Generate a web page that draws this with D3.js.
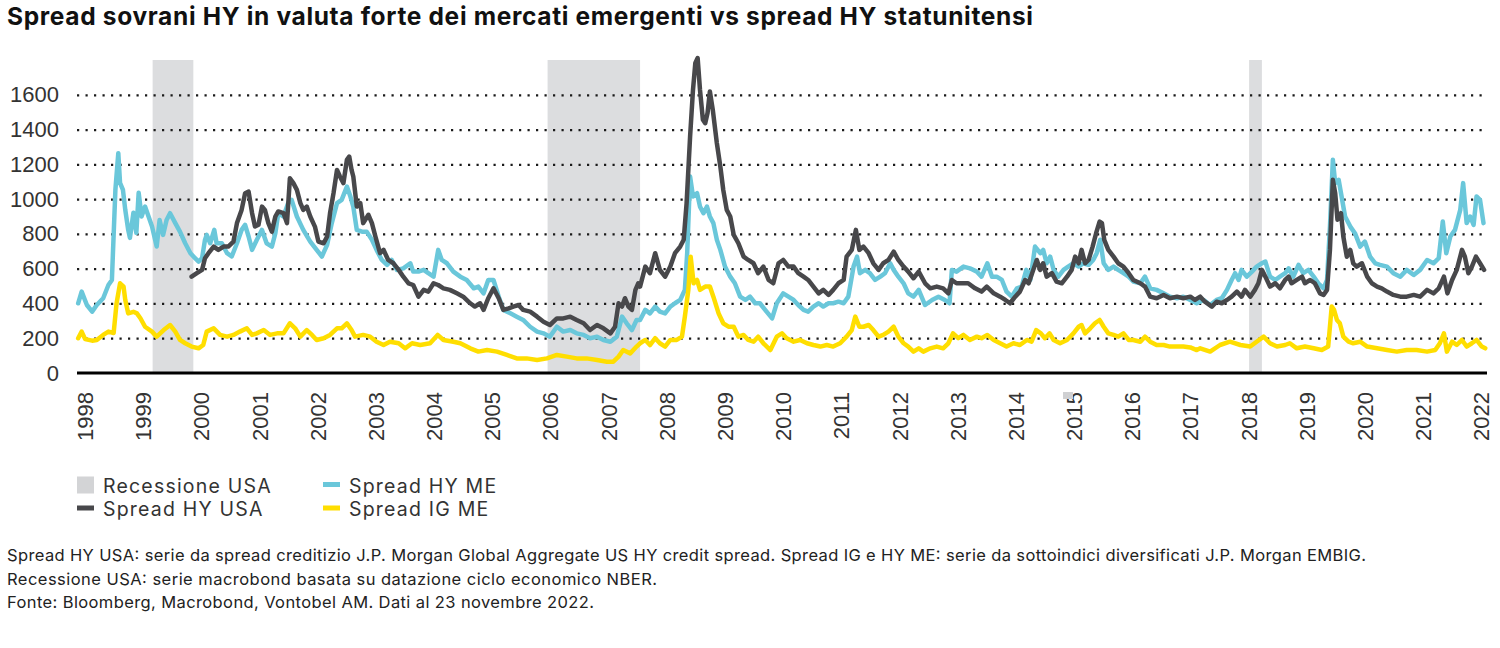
<!DOCTYPE html>
<html>
<head>
<meta charset="utf-8">
<script src="https://cdn.jsdelivr.net/npm/d3@7"></script>
<style>
  html, body { margin: 0; padding: 0; background: #fff; }
  svg { display: block; }
</style>
</head>
<body>
<svg id="chart" width="1500" height="648"></svg>
<script>
// ---------------- DATA ----------------
const titleText = "Spread sovrani HY in valuta forte dei mercati emergenti vs spread HY statunitensi";
const xTickYears = [1998,1999,2000,2001,2002,2003,2004,2005,2006,2007,2008,2009,2010,2011,2012,2013,2014,2015,2016,2017,2018,2019,2020,2021,2022];
const yTickValues = [0,200,400,600,800,1000,1200,1400,1600];
const recessions = [[1999.16,1999.86],[2005.95,2007.54],[2018.01,2018.23]];

const hyMe = [
[1997.88,401],[1997.94,468],[1998.03,391],[1998.12,353],[1998.20,391],[1998.31,430],[1998.40,506],[1998.46,535],[1998.52,1053],[1998.57,1264],[1998.60,1093],[1998.65,1053],[1998.69,938],[1998.74,823],[1998.77,777],[1998.83,921],[1998.88,806],[1998.92,1036],[1998.97,900],[1999.03,957],[1999.09,900],[1999.15,842],[1999.23,727],[1999.28,880],[1999.34,794],[1999.40,880],[1999.46,919],[1999.55,862],[1999.63,813],[1999.72,746],[1999.81,689],[1999.89,660],[1999.95,641],
[2000.01,660],[2000.06,765],[2000.09,794],[2000.15,746],[2000.22,823],[2000.26,746],[2000.35,746],[2000.44,689],[2000.52,670],[2000.61,746],[2000.69,823],[2000.75,852],[2000.81,785],[2000.87,708],[2000.95,765],[2001.04,823],[2001.12,746],[2001.21,727],[2001.27,804],[2001.32,919],[2001.41,900],[2001.49,977],[2001.55,996],[2001.64,900],[2001.75,823],[2001.87,756],[2001.98,708],
[2002.07,670],[2002.16,737],[2002.24,862],[2002.33,977],[2002.41,996],[2002.50,1072],[2002.56,1015],[2002.61,957],[2002.67,823],[2002.76,813],[2002.84,813],[2002.93,766],[2003.01,708],[2003.10,650],[2003.19,622],[2003.27,650],[2003.36,593],[2003.47,602],[2003.59,631],[2003.64,583],[2003.73,583],[2003.82,593],[2003.90,574],[2003.99,554],
[2004.07,708],[2004.13,650],[2004.22,631],[2004.33,583],[2004.45,554],[2004.56,535],[2004.68,487],[2004.76,497],[2004.85,458],[2004.93,535],[2005.02,535],[2005.11,439],[2005.19,363],[2005.31,343],[2005.42,324],[2005.53,305],[2005.65,266],[2005.77,238],[2005.88,228],[2005.99,209],
[2006.11,266],[2006.22,238],[2006.34,247],[2006.45,228],[2006.57,219],[2006.68,200],[2006.80,209],[2006.91,190],[2007.03,180],[2007.14,209],[2007.23,324],[2007.31,286],[2007.40,247],[2007.48,305],[2007.54,305],[2007.63,363],[2007.71,343],[2007.80,382],[2007.88,353],[2007.97,343],
[2008.06,382],[2008.14,401],[2008.23,420],[2008.31,478],[2008.35,689],[2008.40,1130],[2008.45,1015],[2008.52,1034],[2008.57,957],[2008.63,919],[2008.69,957],[2008.74,900],[2008.80,862],[2008.86,766],[2008.92,708],[2009.00,612],[2009.09,554],[2009.17,516],[2009.26,439],[2009.35,420],[2009.43,439],[2009.52,401],[2009.60,401],[2009.69,363],[2009.81,314],[2009.89,401],
[2010.00,458],[2010.09,439],[2010.18,420],[2010.26,391],[2010.35,363],[2010.43,353],[2010.52,382],[2010.61,401],[2010.69,382],[2010.78,401],[2010.86,401],[2010.95,410],[2011.04,401],[2011.12,439],[2011.21,612],[2011.27,669],[2011.32,574],[2011.41,593],[2011.49,574],[2011.58,535],[2011.67,554],[2011.75,574],[2011.84,631],[2011.90,593],[2011.98,554],
[2012.07,516],[2012.15,458],[2012.24,439],[2012.33,478],[2012.44,391],[2012.56,420],[2012.67,439],[2012.78,420],[2012.86,401],[2012.90,593],[2012.98,583],[2013.10,612],[2013.21,602],[2013.33,583],[2013.41,554],[2013.51,631],[2013.59,554],[2013.67,554],[2013.76,535],[2013.84,468],[2013.93,439],
[2014.02,487],[2014.10,497],[2014.18,593],[2014.25,535],[2014.33,727],[2014.42,689],[2014.47,708],[2014.53,631],[2014.59,669],[2014.65,593],[2014.73,554],[2014.82,593],[2014.90,612],[2014.99,631],[2015.08,612],[2015.16,631],[2015.25,622],[2015.33,650],[2015.39,689],[2015.45,766],[2015.51,631],[2015.59,593],[2015.68,612],[2015.76,593],[2015.85,574],[2015.94,554],
[2016.02,526],[2016.14,516],[2016.22,554],[2016.31,487],[2016.42,478],[2016.54,458],[2016.65,439],[2016.77,430],[2016.88,439],[2017.00,420],[2017.11,401],[2017.23,420],[2017.34,391],[2017.45,420],[2017.54,430],[2017.63,478],[2017.71,535],[2017.77,574],[2017.83,535],[2017.88,593],[2017.97,554],
[2018.06,583],[2018.14,612],[2018.23,631],[2018.29,641],[2018.37,554],[2018.46,535],[2018.54,554],[2018.63,574],[2018.69,602],[2018.77,554],[2018.86,622],[2018.94,574],[2019.03,593],[2019.12,554],[2019.20,516],[2019.29,487],[2019.35,535],[2019.40,842],[2019.45,1226],[2019.49,1092],[2019.55,1111],[2019.60,1015],[2019.66,900],[2019.75,842],[2019.83,804],[2019.92,727],
[2020.00,756],[2020.09,669],[2020.18,631],[2020.26,622],[2020.38,612],[2020.49,574],[2020.61,554],[2020.72,593],[2020.84,564],[2020.95,593],[2021.07,650],[2021.18,631],[2021.27,660],[2021.34,871],[2021.40,689],[2021.47,785],[2021.55,823],[2021.64,938],[2021.69,1092],[2021.75,862],[2021.81,900],[2021.87,852],[2021.92,1015],[2021.98,996],[2022.04,862]
];

const hyUsa = [
[1999.83,554],[1999.92,574],[2000.01,593],[2000.06,660],[2000.12,689],[2000.21,727],[2000.29,708],[2000.38,727],[2000.46,727],[2000.55,756],[2000.61,862],[2000.69,938],[2000.75,1034],[2000.81,1043],[2000.87,919],[2000.92,842],[2000.98,852],[2001.04,957],[2001.09,938],[2001.15,862],[2001.21,813],[2001.27,900],[2001.32,929],[2001.41,919],[2001.47,862],[2001.52,1120],[2001.58,1092],[2001.64,1053],[2001.70,977],[2001.75,938],[2001.81,957],[2001.87,900],[2001.95,842],
[2002.01,756],[2002.10,746],[2002.16,785],[2002.21,919],[2002.27,1034],[2002.33,1168],[2002.38,1130],[2002.44,1092],[2002.50,1226],[2002.54,1245],[2002.58,1168],[2002.61,1130],[2002.67,957],[2002.73,977],[2002.78,862],[2002.87,910],[2002.93,862],[2002.99,785],[2003.07,689],[2003.13,708],[2003.21,650],[2003.30,631],[2003.39,593],[2003.47,554],[2003.56,516],[2003.64,506],[2003.73,439],[2003.82,478],[2003.90,468],[2003.99,516],
[2004.07,506],[2004.16,487],[2004.27,478],[2004.39,458],[2004.50,439],[2004.62,401],[2004.70,382],[2004.79,401],[2004.85,363],[2004.93,430],[2005.02,487],[2005.11,430],[2005.19,363],[2005.28,372],[2005.36,382],[2005.45,391],[2005.53,363],[2005.65,353],[2005.77,324],[2005.88,295],[2005.99,276],
[2006.11,314],[2006.22,314],[2006.34,324],[2006.45,305],[2006.57,286],[2006.68,247],[2006.80,276],[2006.91,257],[2007.03,228],[2007.11,266],[2007.17,401],[2007.23,382],[2007.28,430],[2007.34,382],[2007.40,363],[2007.46,478],[2007.51,516],[2007.54,497],[2007.63,612],[2007.71,574],[2007.80,689],[2007.88,593],[2007.97,554],
[2008.06,612],[2008.14,689],[2008.23,727],[2008.29,766],[2008.34,977],[2008.40,1360],[2008.45,1629],[2008.49,1783],[2008.53,1811],[2008.57,1629],[2008.62,1456],[2008.66,1437],[2008.70,1495],[2008.74,1619],[2008.79,1514],[2008.86,1322],[2008.92,1187],[2008.97,1053],[2009.03,938],[2009.09,900],[2009.15,794],[2009.23,746],[2009.32,669],[2009.40,650],[2009.49,631],[2009.57,574],[2009.66,612],[2009.75,535],[2009.83,516],[2009.92,631],
[2010.00,650],[2010.09,612],[2010.18,612],[2010.26,574],[2010.35,554],[2010.43,535],[2010.52,497],[2010.61,458],[2010.69,478],[2010.78,449],[2010.86,478],[2010.95,516],[2011.04,535],[2011.09,669],[2011.18,708],[2011.25,823],[2011.31,708],[2011.38,727],[2011.47,689],[2011.55,631],[2011.64,593],[2011.72,631],[2011.81,650],[2011.90,698],[2011.98,650],
[2012.07,612],[2012.15,583],[2012.24,545],[2012.33,583],[2012.44,516],[2012.53,487],[2012.64,497],[2012.75,487],[2012.84,458],[2012.90,535],[2012.98,516],[2013.10,516],[2013.18,516],[2013.30,487],[2013.41,468],[2013.50,497],[2013.62,458],[2013.73,439],[2013.82,420],[2013.90,401],[2013.99,439],
[2014.07,468],[2014.16,535],[2014.22,516],[2014.30,593],[2014.36,650],[2014.42,593],[2014.47,631],[2014.53,554],[2014.62,574],[2014.70,526],[2014.79,516],[2014.88,554],[2014.96,593],[2015.02,669],[2015.08,631],[2015.13,708],[2015.19,631],[2015.25,650],[2015.32,727],[2015.38,804],[2015.44,871],[2015.48,862],[2015.52,766],[2015.59,708],[2015.68,669],[2015.76,631],[2015.85,612],[2015.94,574],
[2016.02,535],[2016.14,516],[2016.22,497],[2016.31,439],[2016.42,430],[2016.54,449],[2016.65,430],[2016.77,439],[2016.88,430],[2017.00,439],[2017.08,420],[2017.17,439],[2017.25,410],[2017.37,382],[2017.45,410],[2017.54,401],[2017.63,420],[2017.71,439],[2017.80,468],[2017.88,439],[2017.94,478],
[2018.03,439],[2018.11,478],[2018.17,516],[2018.23,593],[2018.29,554],[2018.37,497],[2018.46,516],[2018.54,487],[2018.63,535],[2018.69,554],[2018.74,516],[2018.83,535],[2018.92,554],[2018.97,516],[2019.06,535],[2019.14,516],[2019.23,458],[2019.29,449],[2019.35,478],[2019.40,708],[2019.45,1111],[2019.49,1034],[2019.53,881],[2019.59,919],[2019.63,785],[2019.69,669],[2019.75,708],[2019.80,631],[2019.86,612],[2019.95,631],
[2020.04,554],[2020.12,516],[2020.21,497],[2020.29,487],[2020.38,468],[2020.49,449],[2020.61,439],[2020.72,439],[2020.84,449],[2020.95,439],[2021.07,478],[2021.18,458],[2021.27,487],[2021.36,554],[2021.42,458],[2021.50,535],[2021.58,593],[2021.67,708],[2021.72,669],[2021.78,574],[2021.84,612],[2021.91,669],[2021.98,631],[2022.05,593]
];

const igMe = [
[1997.88,200],[1997.94,238],[1998.00,195],[1998.12,186],[1998.20,190],[1998.31,219],[1998.40,238],[1998.49,230],[1998.54,401],[1998.60,516],[1998.66,497],[1998.69,420],[1998.74,343],[1998.83,352],[1998.89,343],[1998.95,315],[1999.03,266],[1999.15,238],[1999.23,209],[1999.35,247],[1999.46,276],[1999.55,238],[1999.63,190],[1999.72,171],[1999.83,152],[1999.95,142],
[2000.03,161],[2000.09,238],[2000.21,257],[2000.32,219],[2000.44,209],[2000.55,219],[2000.66,238],[2000.78,257],[2000.87,219],[2000.95,228],[2001.07,247],[2001.18,219],[2001.30,228],[2001.41,228],[2001.52,286],[2001.61,257],[2001.70,209],[2001.81,247],[2001.90,219],[2001.98,190],
[2002.10,200],[2002.21,219],[2002.33,257],[2002.41,257],[2002.50,286],[2002.58,247],[2002.64,209],[2002.78,219],[2002.90,209],[2003.01,180],[2003.13,161],[2003.24,180],[2003.39,171],[2003.50,142],[2003.62,171],[2003.76,161],[2003.93,171],
[2004.06,219],[2004.16,190],[2004.33,180],[2004.45,171],[2004.62,142],[2004.76,123],[2004.91,132],[2005.08,123],[2005.25,104],[2005.42,84],[2005.59,84],[2005.77,75],[2005.94,84],
[2006.11,104],[2006.28,94],[2006.45,84],[2006.62,84],[2006.80,75],[2006.97,65],[2007.08,65],[2007.17,94],[2007.25,132],[2007.37,113],[2007.48,152],[2007.54,171],[2007.63,190],[2007.71,161],[2007.80,200],[2007.88,171],[2007.97,152],
[2008.06,190],[2008.17,190],[2008.26,209],[2008.31,324],[2008.37,478],[2008.41,669],[2008.46,516],[2008.52,535],[2008.57,478],[2008.66,497],[2008.74,497],[2008.80,439],[2008.89,343],[2008.97,286],[2009.06,266],[2009.15,266],[2009.23,209],[2009.32,219],[2009.40,190],[2009.49,180],[2009.57,209],[2009.66,171],[2009.78,132],[2009.89,209],[2009.98,228],
[2010.06,200],[2010.18,180],[2010.29,190],[2010.41,171],[2010.52,161],[2010.64,152],[2010.75,161],[2010.86,152],[2010.98,171],[2011.09,209],[2011.18,247],[2011.24,324],[2011.31,266],[2011.38,266],[2011.47,276],[2011.55,247],[2011.64,209],[2011.72,219],[2011.81,238],[2011.90,266],[2011.98,209],
[2012.07,171],[2012.15,152],[2012.24,123],[2012.33,142],[2012.41,123],[2012.53,142],[2012.64,152],[2012.75,142],[2012.84,171],[2012.92,228],[2013.01,200],[2013.10,219],[2013.21,190],[2013.33,209],[2013.41,200],[2013.51,219],[2013.62,190],[2013.73,171],[2013.84,152],[2013.96,171],
[2014.07,161],[2014.19,190],[2014.27,180],[2014.35,247],[2014.43,228],[2014.50,200],[2014.58,228],[2014.65,190],[2014.76,171],[2014.88,190],[2014.99,228],[2015.08,266],[2015.13,276],[2015.19,228],[2015.28,257],[2015.36,286],[2015.44,305],[2015.51,266],[2015.59,228],[2015.68,219],[2015.76,209],[2015.85,228],[2015.94,190],
[2016.02,190],[2016.14,180],[2016.22,209],[2016.31,180],[2016.42,161],[2016.54,161],[2016.65,152],[2016.77,152],[2016.88,152],[2017.00,147],[2017.11,132],[2017.17,142],[2017.34,123],[2017.51,161],[2017.68,180],[2017.86,161],
[2018.03,152],[2018.14,180],[2018.26,209],[2018.37,171],[2018.49,152],[2018.63,161],[2018.71,171],[2018.83,142],[2018.97,152],[2019.12,142],[2019.26,132],[2019.37,152],[2019.43,382],[2019.47,363],[2019.52,305],[2019.57,286],[2019.63,209],[2019.72,180],[2019.80,171],[2019.92,180],
[2020.04,152],[2020.21,142],[2020.38,132],[2020.55,123],[2020.72,132],[2020.89,132],[2021.07,123],[2021.21,132],[2021.29,171],[2021.36,228],[2021.41,123],[2021.50,180],[2021.58,161],[2021.67,190],[2021.75,152],[2021.84,171],[2021.92,190],[2022.01,152],[2022.07,142]
];

const legendItems = [
  {label: "Recessione USA", kind: "rect", color: "#d3d4d6", col: 0, row: 0},
  {label: "Spread HY USA", kind: "line", color: "#48484b", col: 0, row: 1},
  {label: "Spread HY ME", kind: "line", color: "#6ac7da", col: 1, row: 0},
  {label: "Spread IG ME", kind: "line", color: "#ffde00", col: 1, row: 1}
];
const footnotes = [
  "Spread HY USA: serie da spread creditizio J.P. Morgan Global Aggregate US HY credit spread. Spread IG e HY ME: serie da sottoindici diversificati J.P. Morgan EMBIG.",
  "Recessione USA: serie macrobond basata su datazione ciclo economico NBER.",
  "Fonte: Bloomberg, Macrobond, Vontobel AM. Dati al 23 novembre 2022."
];

// ---------------- CHART ----------------
const svg = d3.select("#chart");
const plot = {left: 77, right: 1487, top: 60, bottom: 373};

const x = d3.scaleLinear().domain([1997.86, 2022.10]).range([plot.left, plot.right]);
const y = d3.scaleLinear().domain([0, 1800]).range([plot.bottom, plot.top]);

svg.append("rect").attr("width", 1500).attr("height", 648).attr("fill", "#fff");

// title
svg.append("text")
  .attr("x", 7).attr("y", 25)
  .attr("font-family", "Inter, 'Noto Sans', sans-serif")
  .attr("font-weight", 700)
  .attr("font-size", 24.5)
  .attr("fill", "#111")
  .attr("textLength", 1026)
  .attr("lengthAdjust", "spacing")
  .text(titleText);

// recession bands
svg.append("g").selectAll("rect").data(recessions).join("rect")
  .attr("x", d => x(d[0]))
  .attr("width", d => x(d[1]) - x(d[0]))
  .attr("y", y(1800))
  .attr("height", y(0) - y(1800))
  .attr("fill", "#dcdddf");

// gridlines (dotted)
const yAxisGrid = d3.axisLeft(y).tickValues(yTickValues.filter(v => v > 0))
  .tickSize(-(plot.right - plot.left)).tickFormat("");
const gGrid = svg.append("g").attr("transform", `translate(${plot.left},0)`).call(yAxisGrid);
gGrid.select(".domain").remove();
gGrid.selectAll(".tick line")
  .attr("stroke", "#1a1a1a").attr("stroke-width", 2.2)
  .attr("stroke-dasharray", "2.2,6.3");

// y labels
const yAxis = d3.axisLeft(y).tickValues(yTickValues).tickFormat(d3.format("d")).tickSize(0).tickPadding(0);
const gY = svg.append("g").attr("transform", `translate(59,0)`).call(yAxis);
gY.select(".domain").remove();
gY.selectAll("text")
  .attr("font-family", "'Liberation Sans', Arial, sans-serif")
  .attr("font-size", 22).attr("fill", "#333");

// lines
const line = d3.line().x(d => x(d[0])).y(d => y(d[1]));
const series = [
  {data: hyMe, color: "#6ac7da"},
  {data: hyUsa, color: "#48484b"},
  {data: igMe, color: "#ffde00"}
];
svg.append("g").selectAll("path").data(series).join("path")
  .attr("d", d => line(d.data))
  .attr("fill", "none")
  .attr("stroke", d => d.color)
  .attr("stroke-width", 4.5)
  .attr("stroke-linejoin", "round")
  .attr("stroke-linecap", "round");

// zero line
svg.append("line")
  .attr("x1", plot.left).attr("x2", plot.right)
  .attr("y1", y(0)).attr("y2", y(0))
  .attr("stroke", "#000").attr("stroke-width", 3);

// x axis labels
const xAxis = d3.axisBottom(x).tickValues(xTickYears).tickFormat(d3.format("d")).tickSize(0).tickPadding(0);
const gX = svg.append("g").attr("transform", `translate(0,392)`).call(xAxis);
gX.select(".domain").remove();
gX.selectAll("text")
  .attr("font-family", "'Liberation Sans', Arial, sans-serif")
  .attr("font-size", 22).attr("fill", "#333")
  .attr("text-anchor", "end")
  .attr("dy", null)
  .attr("y", 0)
  .attr("dominant-baseline", "central")
  .attr("transform", "rotate(-90)");

// small artifact over the 2015 label
svg.append("rect")
  .attr("x", x(2015) - 11).attr("y", 392).attr("width", 10).attr("height", 7)
  .attr("fill", "#cfd0d2");

// legend
const legend = svg.append("g");
const colX = [77, 323];
const rowY = [484.5, 508];
legendItems.forEach(it => {
  const lx = colX[it.col], ly = rowY[it.row];
  if (it.kind === "rect") {
    legend.append("rect").attr("x", lx).attr("y", ly - 8).attr("width", 17).attr("height", 17).attr("fill", it.color);
  } else {
    legend.append("rect").attr("x", lx).attr("y", ly - 2.5).attr("width", 17).attr("height", 5).attr("fill", it.color);
  }
  legend.append("text")
    .attr("x", lx + 26).attr("y", ly + 8)
    .attr("font-family", "Inter, 'Noto Sans', sans-serif")
    .attr("font-size", 19.5).attr("fill", "#333")
    .attr("letter-spacing", 1.2)
    .text(it.label);
});

// footnotes
const footWidths = [1359, 650, 587];
svg.append("g").selectAll("text").data(footnotes).join("text")
  .attr("x", 7).attr("y", (d, i) => 561 + i * 23.5)
  .attr("font-family", "Inter, 'Noto Sans', sans-serif")
  .attr("font-size", 16.5).attr("fill", "#222")
  .attr("textLength", (d, i) => footWidths[i])
  .attr("lengthAdjust", "spacing")
  .text(d => d);
</script>
</body>
</html>
